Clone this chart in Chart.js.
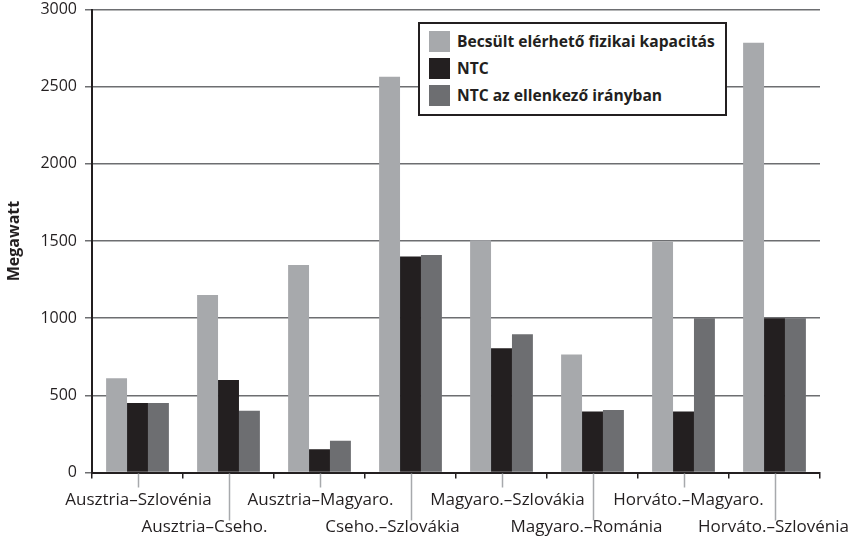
<!DOCTYPE html>
<html>
<head>
<meta charset="utf-8">
<script src="https://cdn.jsdelivr.net/npm/chart.js@4.4.1/dist/chart.umd.min.js"></script>
<style>
  html, body { margin: 0; padding: 0; background: #fff; }
  #wrap { position: relative; width: 848px; height: 537px; }
  #legend {
    position: absolute; left: 418px; top: 22px; width: 305px; height: 90px;
    border: 2px solid #231f20; background: #fff;
    font-family: "Open Sans", sans-serif; font-weight: bold; font-size: 15.6px; color: #231f20;
  }
  #legend .item { position: absolute; left: 9px; height: 21px; line-height: 21px; white-space: nowrap; }
  #legend .sw { display: inline-block; width: 21px; height: 21px; vertical-align: top; margin-right: 7px; }
</style>
</head>
<body>
<div id="wrap">
  <canvas id="chart" width="848" height="537"></canvas>
  <div id="legend"></div>
</div>
<script>
// data
const categories = [
  'Ausztria–Szlovénia', 'Ausztria–Cseho.', 'Ausztria–Magyaro.', 'Cseho.–Szlovákia',
  'Magyaro.–Szlovákia', 'Magyaro.–Románia', 'Horváto.–Magyaro.', 'Horváto.–Szlovénia'
];
const seriesNames = ['Becsült elérhető fizikai kapacitás', 'NTC', 'NTC az ellenkező irányban'];
const capacity = [610, 1150, 1345, 2565, 1505, 765, 1495, 2785];
const ntc = [450, 600, 150, 1400, 805, 395, 395, 1000];
const ntcReverse = [450, 400, 205, 1410, 895, 405, 1000, 1000];
const yTicks = [0, 500, 1000, 1500, 2000, 2500, 3000];

const colors = ['#a7a9ac', '#231f20', '#6d6e71'];
const ink = '#231f20';
// lower-row labels sit a little left of their category in the original
const labelShift = [0, -25, 0, -19, 5, -7, 4, -2];

const legendEl = document.getElementById('legend');
seriesNames.forEach((name, i) => {
  const d = document.createElement('div');
  d.className = 'item';
  d.style.top = (7 + i * 27) + 'px';
  d.innerHTML = '<span class="sw" style="background:' + colors[i] + '"></span>' + name;
  legendEl.appendChild(d);
});

const staggerLabels = {
  id: 'staggerLabels',
  afterDraw(chart) {
    const xs = chart.scales.x;
    const ctx = chart.ctx;
    const top = chart.chartArea.bottom;
    ctx.save();
    ctx.font = '17px "Open Sans", sans-serif';
    ctx.fillStyle = ink;
    ctx.textAlign = 'center';
    ctx.textBaseline = 'alphabetic';
    categories.forEach((label, i) => {
      const x = Math.round(xs.getPixelForValue(i)) + 0.5;
      const lower = i % 2 === 1;
      ctx.strokeStyle = '#a7a9ac';
      ctx.lineWidth = 1.5;
      ctx.beginPath();
      ctx.moveTo(x, top + 1);
      ctx.lineTo(x, top + (lower ? 48 : 15));
      ctx.stroke();
      ctx.fillText(label, x + labelShift[i], lower ? 532 : 505);
    });
    ctx.restore();
  }
};

new Chart(document.getElementById('chart'), {
  type: 'bar',
  data: {
    labels: categories,
    datasets: [
      { label: seriesNames[0], data: capacity, backgroundColor: colors[0] },
      { label: seriesNames[1], data: ntc, backgroundColor: colors[1] },
      { label: seriesNames[2], data: ntcReverse, backgroundColor: colors[2] }
    ]
  },
  options: {
    responsive: false,
    animation: false,
    layout: { padding: { top: 9.5, right: 28, left: 0, bottom: 0 } },
    datasets: { bar: { barPercentage: 1, categoryPercentage: 0.69, borderWidth: 0 } },
    plugins: { legend: { display: false }, tooltip: { enabled: false } },
    scales: {
      x: {
        afterFit: s => { s.height = 64.5; s.paddingLeft = 0; s.paddingRight = 0; },
        ticks: { display: false },
        grid: { offset: true, drawOnChartArea: false, tickLength: 6, color: ink, lineWidth: 1.5 },
        border: { color: ink, width: 2 }
      },
      y: {
        min: 0, max: 3000,
        afterFit: s => { s.width = 92; s.paddingTop = 0; s.paddingBottom = 0; },
        afterBuildTicks: s => { s.ticks = yTicks.map(v => ({ value: v })); },
        ticks: {
          color: ink, padding: 8,
          font: { family: '"Open Sans", sans-serif', size: 16 },
          callback: v => String(v)
        },
        grid: { color: '#6d6e71', lineWidth: 1.5, tickLength: 7 },
        border: { color: ink, width: 2 },
        title: {
          display: true, text: 'Megawatt', color: ink, padding: { top: 5, bottom: 0 },
          font: { family: '"Open Sans", sans-serif', size: 16, weight: 'bold' }
        }
      }
    }
  },
  plugins: [staggerLabels]
});
</script>
</body>
</html>
